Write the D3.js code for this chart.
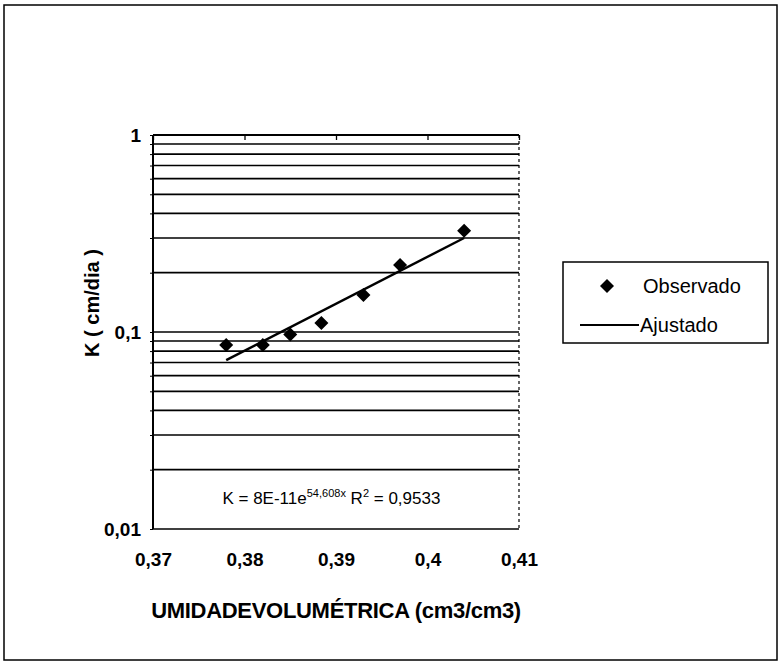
<!DOCTYPE html>
<html><head><meta charset="utf-8">
<script src="https://cdn.jsdelivr.net/npm/d3@7"></script>
<style>body{margin:0;background:#fff}svg{display:block}</style>
</head><body><svg id="c" width="781" height="666"></svg>
<script>
// Observed data (umidade volumétrica, K cm/dia)
const obsX = [0.378, 0.382, 0.385, 0.3884, 0.393, 0.397, 0.404];
const obsK = [0.086, 0.086, 0.097, 0.111, 0.154, 0.219, 0.327];
// Fitted (Ajustado) trend line end points
const fitX = [0.378, 0.404];
const fitK = [0.072, 0.300];
// Axis ticks
const xTicks = [0.37, 0.38, 0.39, 0.40, 0.41];
const xTickLabels = ["0,37", "0,38", "0,39", "0,4", "0,41"];
const yMajor = [1, 0.1, 0.01];
const yMajorLabels = ["1", "0,1", "0,01"];
const yGrid = [0.02, 0.03, 0.04, 0.05, 0.06, 0.07, 0.08, 0.09, 0.1,
               0.2, 0.3, 0.4, 0.5, 0.6, 0.7, 0.8, 0.9, 1];
const equation = {pre: "K = 8E-11e", exp: "54,608x", r: " R", r2: "2", post: " = 0,9533"};

const font = "'Liberation Sans', Arial, sans-serif";
const svg = d3.select("#c");
const L = 153, R = 519, T = 135, B = 529;
const x = d3.scaleLinear().domain([0.37, 0.41]).range([L, R]);
const y = d3.scaleLog().domain([0.01, 1]).range([B, T]);

// outer chart border
svg.append("rect").attr("x", 4).attr("y", 5).attr("width", 773).attr("height", 655)
  .attr("fill", "none").attr("stroke", "#000").attr("stroke-width", 1.5);

// gridlines
svg.append("g").selectAll("line").data(yGrid).join("line")
  .attr("x1", L).attr("x2", R).attr("y1", d => y(d)).attr("y2", d => y(d))
  .attr("stroke", "#000").attr("stroke-width", 1.7);

// plot area border: left/bottom/top solid, right dashed
const pb = svg.append("g").attr("stroke", "#000");
pb.append("line").attr("x1", L).attr("x2", L).attr("y1", T).attr("y2", B).attr("stroke-width", 2);
pb.append("line").attr("x1", L).attr("x2", R).attr("y1", B).attr("y2", B).attr("stroke-width", 1.7);
pb.append("line").attr("x1", L).attr("x2", R).attr("y1", T).attr("y2", T).attr("stroke-width", 2);
pb.append("line").attr("x1", R).attr("x2", R).attr("y1", T).attr("y2", B).attr("stroke-width", 1.2)
  .attr("stroke-dasharray", "3,3");

// y axis (ticks + labels)
const yAxis = d3.axisLeft(y).tickValues(yGrid.concat([0.01])).tickSize(3)
  .tickFormat(d => { const i = yMajor.indexOf(d); return i >= 0 ? yMajorLabels[i] : ""; });
const ga = svg.append("g").attr("transform", `translate(${L},0)`).call(yAxis);
ga.select(".domain").remove();
ga.selectAll("text").attr("font-family", font).attr("font-size", 19).attr("font-weight", "bold")
  .attr("fill", "#000").attr("x", -12);

// x axis: tick marks on top edge, labels at bottom
const xTop = d3.axisBottom(x).tickValues(xTicks).tickSize(5).tickFormat("");
const gt = svg.append("g").attr("transform", `translate(0,${T})`).call(xTop);
gt.select(".domain").remove();
gt.selectAll("line").attr("stroke-width", 1.3);
const xBot = d3.axisBottom(x).tickValues(xTicks).tickSize(0)
  .tickFormat((d, i) => xTickLabels[i]);
const gb = svg.append("g").attr("transform", `translate(0,${B})`).call(xBot);
gb.select(".domain").remove();
gb.selectAll("text").attr("font-family", font).attr("font-size", 19).attr("font-weight", "bold")
  .attr("fill", "#000").attr("y", 37).attr("dy", 0);

// trend line
const line = d3.line().x(d => x(d[0])).y(d => y(d[1]));
svg.append("path").datum(fitX.map((v, i) => [v, fitK[i]])).attr("d", line)
  .attr("fill", "none").attr("stroke", "#000").attr("stroke-width", 2.4);

// observed points
const diamond = d3.symbol().type(d3.symbolDiamond2).size(125);
svg.append("g").selectAll("path").data(obsX.map((v, i) => [v, obsK[i]])).join("path")
  .attr("d", diamond).attr("transform", d => `translate(${x(d[0])},${y(d[1])})`).attr("fill", "#000");

// equation
const eq = svg.append("text").attr("x", x(0.3895)).attr("y", 504).attr("text-anchor", "middle")
  .attr("font-family", font).attr("font-size", 17).attr("fill", "#000");
eq.append("tspan").text(equation.pre);
eq.append("tspan").attr("dy", -7).attr("font-size", 11).text(equation.exp);
eq.append("tspan").attr("dy", 7).text(equation.r);
eq.append("tspan").attr("dy", -7).attr("font-size", 11).text(equation.r2);
eq.append("tspan").attr("dy", 7).text(equation.post);

// axis titles
svg.append("text").attr("x", 336).attr("y", 618).attr("text-anchor", "middle")
  .attr("font-family", font).attr("font-weight", "bold").attr("font-size", 22).attr("fill", "#000")
  .attr("letter-spacing", -0.3)
  .text("UMIDADEVOLUMÉTRICA (cm3/cm3)");
svg.append("text").attr("transform", "translate(99,303) rotate(-90)").attr("text-anchor", "middle")
  .attr("font-family", font).attr("font-weight", "bold").attr("font-size", 20).attr("fill", "#000")
  .text("K ( cm/dia )");

// legend
const lg = svg.append("g");
lg.append("rect").attr("x", 563).attr("y", 262).attr("width", 205).attr("height", 81)
  .attr("fill", "#fff").attr("stroke", "#000").attr("stroke-width", 1.5);
lg.append("path").attr("d", diamond).attr("transform", "translate(607,286)").attr("fill", "#000");
lg.append("text").attr("x", 643).attr("y", 293).attr("font-family", font).attr("font-size", 20).text("Observado");
lg.append("line").attr("x1", 580).attr("x2", 639).attr("y1", 325).attr("y2", 325)
  .attr("stroke", "#000").attr("stroke-width", 2);
lg.append("text").attr("x", 640).attr("y", 332).attr("font-family", font).attr("font-size", 20).text("Ajustado");
</script></body></html>
